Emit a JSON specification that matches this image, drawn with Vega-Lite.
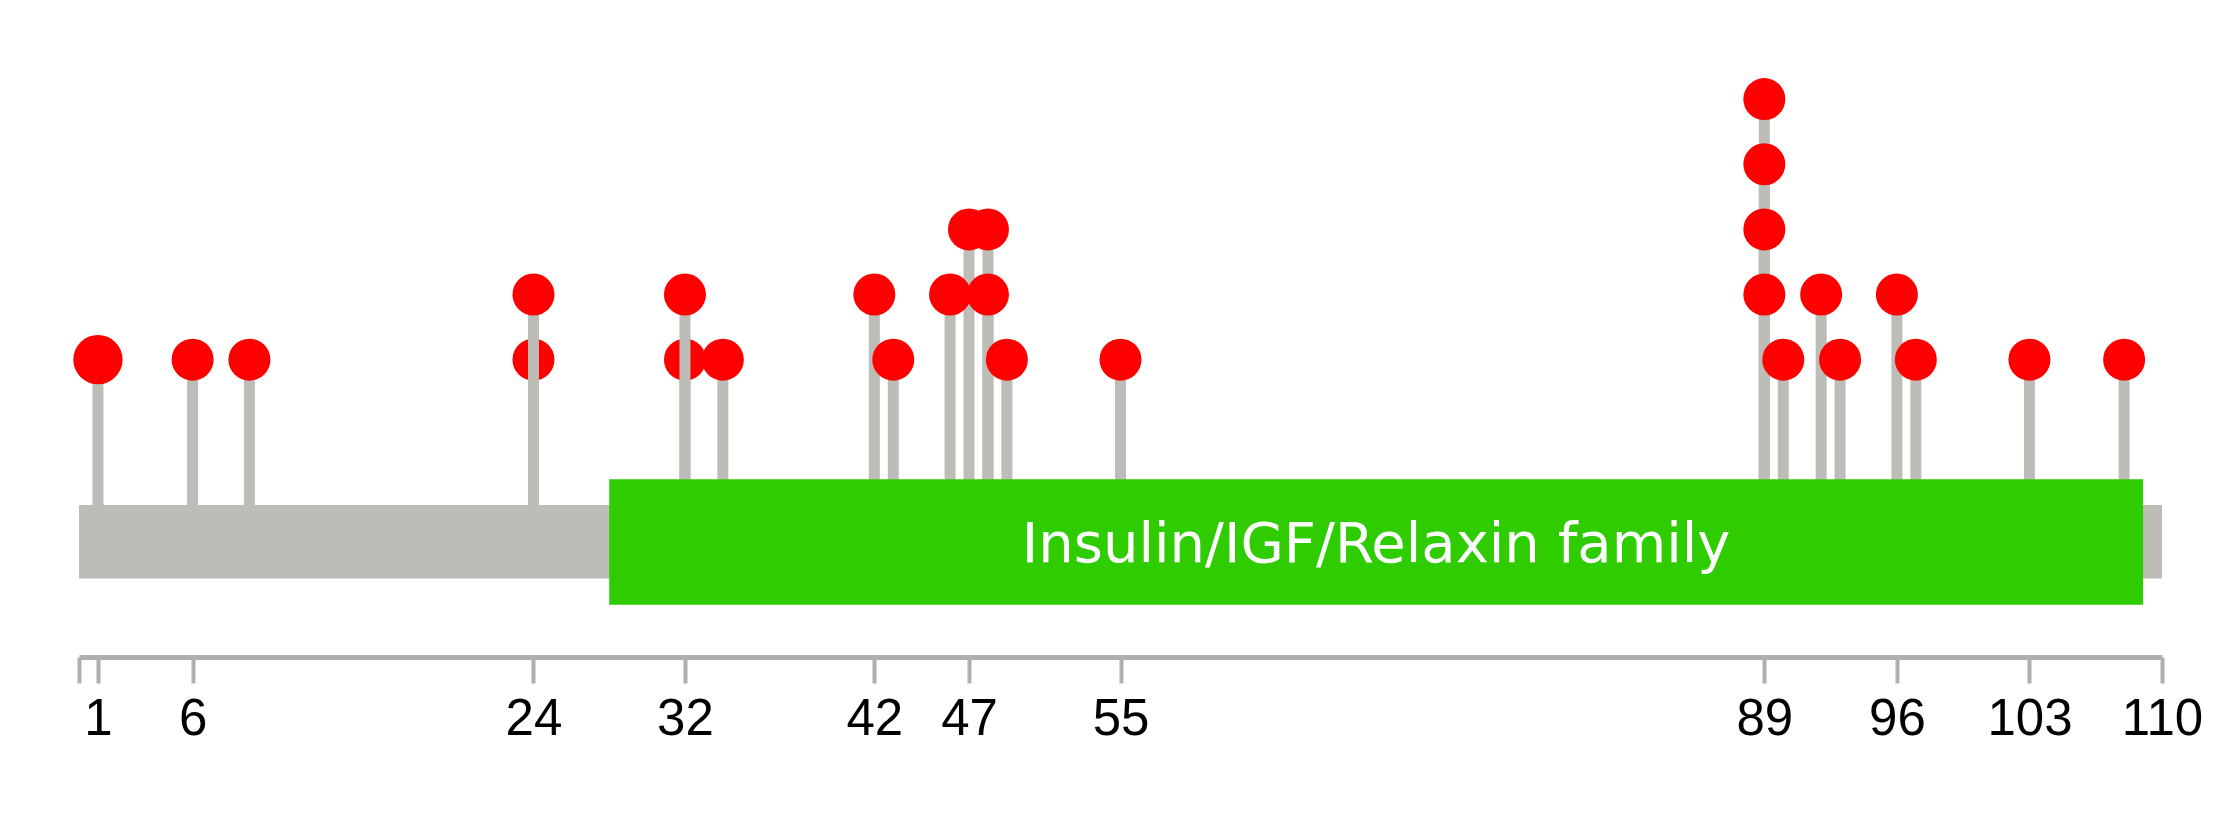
{
  "$schema": "https://vega.github.io/schema/vega-lite/v6.json",
  "width": 2083,
  "height": 657,
  "autosize": {"type": "none"},
  "padding": {"left": 79, "top": 0, "right": 77, "bottom": 181},
  "background": "white",
  "view": {"stroke": null},
  "datasets": {
    "muts": [
      {"pos": 1, "level": 1, "n": 2},
      {"pos": 6, "level": 1, "n": 1},
      {"pos": 9, "level": 1, "n": 1},
      {"pos": 24, "level": 1, "n": 1},
      {"pos": 24, "level": 2, "n": 1},
      {"pos": 32, "level": 1, "n": 1},
      {"pos": 32, "level": 2, "n": 1},
      {"pos": 34, "level": 1, "n": 1},
      {"pos": 42, "level": 2, "n": 1},
      {"pos": 43, "level": 1, "n": 1},
      {"pos": 46, "level": 2, "n": 1},
      {"pos": 47, "level": 3, "n": 1},
      {"pos": 48, "level": 3, "n": 1},
      {"pos": 48, "level": 2, "n": 1},
      {"pos": 49, "level": 1, "n": 1},
      {"pos": 55, "level": 1, "n": 1},
      {"pos": 89, "level": 5, "n": 1},
      {"pos": 89, "level": 4, "n": 1},
      {"pos": 89, "level": 3, "n": 1},
      {"pos": 89, "level": 2, "n": 1},
      {"pos": 90, "level": 1, "n": 1},
      {"pos": 92, "level": 2, "n": 1},
      {"pos": 93, "level": 1, "n": 1},
      {"pos": 96, "level": 2, "n": 1},
      {"pos": 97, "level": 1, "n": 1},
      {"pos": 103, "level": 1, "n": 1},
      {"pos": 108, "level": 1, "n": 1}
    ],
    "protein": [{"start": 0, "end": 110}],
    "domains": [{"name": "Insulin/IGF/Relaxin family", "start": 28, "end": 109}]
  },
  "encoding": {
    "x": {
      "type": "quantitative",
      "scale": {"domain": [0, 110], "nice": false, "zero": false},
      "axis": {
        "values": [0, 1, 6, 24, 32, 42, 47, 55, 89, 96, 103, 110],
        "labelExpr": "datum.value == 0 ? '' : datum.label",
        "title": null,
        "grid": false,
        "domainColor": "#AFAFAF",
        "domainWidth": 5,
        "tickColor": "#AFAFAF",
        "tickWidth": 4,
        "tickSize": 26,
        "labelFont": "Liberation Sans",
        "labelFontSize": 51,
        "labelColor": "#000000",
        "labelPadding": 11,
        "labelFlush": false,
        "labelOverlap": false,
        "labelBound": false
      }
    }
  },
  "resolve": {"scale": {"y": "shared", "x": "shared"}},
  "layer": [
    {
      "data": {"name": "muts"},
      "transform": [{"filter": "!(datum.level == 2 && (datum.pos == 24 || datum.pos == 32))"}],
      "mark": {"type": "rule", "color": "#BBBDB6", "strokeWidth": 11},
      "encoding": {
        "x": {"field": "pos", "type": "quantitative"},
        "y": {"field": "level", "type": "quantitative", "scale": {"domain": [-3.566, 6.522], "nice": false, "zero": false}, "axis": null},
        "y2": {"datum": -1.5}
      }
    },
    {
      "data": {"name": "muts"},
      "transform": [{"filter": "!(datum.level == 2 && (datum.pos == 24 || datum.pos == 32))"}],
      "mark": {"type": "point", "shape": "circle", "filled": true, "color": "#FF0000", "opacity": 1, "strokeWidth": 0},
      "encoding": {
        "x": {"field": "pos", "type": "quantitative"},
        "y": {"field": "level", "type": "quantitative"},
        "size": {"field": "n", "type": "quantitative", "scale": {"domain": [1, 2], "range": [1764, 2430]}, "legend": null}
      }
    },
    {
      "data": {"name": "muts"},
      "transform": [{"filter": "datum.level == 2 && (datum.pos == 24 || datum.pos == 32)"}],
      "mark": {"type": "rule", "color": "#BBBDB6", "strokeWidth": 11},
      "encoding": {
        "x": {"field": "pos", "type": "quantitative"},
        "y": {"field": "level", "type": "quantitative"},
        "y2": {"datum": -1.5}
      }
    },
    {
      "data": {"name": "muts"},
      "transform": [{"filter": "datum.level == 2 && (datum.pos == 24 || datum.pos == 32)"}],
      "mark": {"type": "point", "shape": "circle", "filled": true, "color": "#FF0000", "opacity": 1, "strokeWidth": 0},
      "encoding": {
        "x": {"field": "pos", "type": "quantitative"},
        "y": {"field": "level", "type": "quantitative"},
        "size": {"field": "n", "type": "quantitative", "scale": {"domain": [1, 2], "range": [1764, 2430]}, "legend": null}
      }
    },
    {
      "data": {"name": "protein"},
      "mark": {"type": "rect", "color": "#BBBDB6"},
      "encoding": {
        "x": {"field": "start", "type": "quantitative"},
        "x2": {"field": "end"},
        "y": {"datum": -1.232},
        "y2": {"datum": -2.361}
      }
    },
    {
      "data": {"name": "domains"},
      "mark": {"type": "rect", "color": "#2ECC00"},
      "encoding": {
        "x": {"field": "start", "type": "quantitative"},
        "x2": {"field": "end"},
        "y": {"datum": -0.838},
        "y2": {"datum": -2.763}
      }
    },
    {
      "data": {"name": "domains"},
      "transform": [{"calculate": "(datum.start + datum.end) / 2", "as": "mid"}],
      "mark": {"type": "text", "color": "#FFFFFF", "font": "DejaVu Sans", "fontSize": 56, "align": "center", "baseline": "alphabetic"},
      "encoding": {
        "x": {"field": "mid", "type": "quantitative"},
        "y": {"datum": -2.103},
        "text": {"field": "name"}
      }
    }
  ]
}
